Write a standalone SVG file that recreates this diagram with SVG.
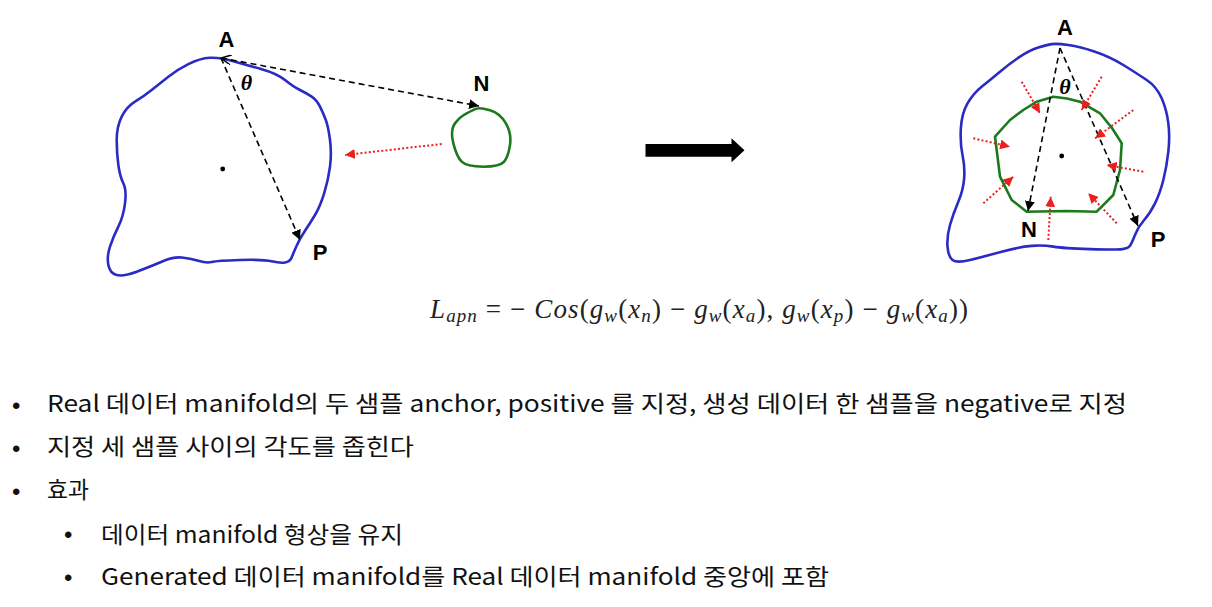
<svg xmlns="http://www.w3.org/2000/svg" width="1212" height="607" viewBox="0 0 1212 607">
<style>
.blue{fill:none;stroke:#2a2ac4;stroke-width:2.6;stroke-linejoin:round;stroke-linecap:round}
.green{fill:none;stroke:#1c7a1c;stroke-width:2.6;stroke-linejoin:round;stroke-linecap:round}
.dash{fill:none;stroke:#000;stroke-width:1.6;stroke-dasharray:6 4}
.red{fill:none;stroke:#e8201e;stroke-width:2;stroke-dasharray:2 2.2}
.lbl{font-family:"Liberation Sans",Arial,sans-serif;font-weight:bold;font-size:22px;fill:#000;text-anchor:middle}
.th{font-family:"Liberation Serif","DejaVu Serif",serif;font-weight:bold;font-style:italic;font-size:22px;fill:#000;text-anchor:middle}
.body{font-family:"Noto Sans CJK KR","Noto Sans",sans-serif;font-size:23px;fill:#111}
.bul{font-family:"Liberation Sans",Arial,sans-serif;font-size:24px;fill:#111}
.math{font-family:"Liberation Serif","DejaVu Serif",serif;font-size:27px;fill:#222}
.i{font-style:italic}
.s{font-style:italic;font-size:19px}
</style>
<defs>
<marker id="ak" markerUnits="userSpaceOnUse" markerWidth="12" markerHeight="10" refX="10" refY="5" orient="auto"><path d="M0,0 L10,5 L0,10 Z" fill="#000"/></marker>
<marker id="aks" markerUnits="userSpaceOnUse" markerWidth="12" markerHeight="10" refX="0" refY="5" orient="auto"><path d="M10,0 L0,5 L10,10" fill="none" stroke="#000" stroke-width="1.5"/></marker>
<marker id="ar" markerUnits="userSpaceOnUse" markerWidth="12" markerHeight="10" refX="10" refY="5" orient="auto"><path d="M0,0 L10,5 L0,10 Z" fill="#e8201e"/></marker>
</defs>

<g id="left-real-manifold">
<path class="blue" d="M210,57.8 Q220,57.3 233.35,61.15 Q246.7,65 261.7,69.15 Q276.7,73.3 285,80 Q293.3,86.7 300,90 Q306.7,93.3 311.7,96.65 Q316.7,100 320,106.65 Q323.3,113.3 325.8,120 Q328.3,126.7 330,140 Q331.7,153.3 330,166.65 Q328.3,180 324.15,193.35 Q320,206.7 315,215 Q310,223.3 305,230.8 Q300,238.3 296.65,245.8 Q293.3,253.3 291.65,257.5 Q290,261.7 285,262.5 Q280,263.3 271.65,261.3 Q263.3,259.3 240,260 Q216.7,260.7 211.7,262 Q206.7,263.3 198.35,260.8 Q190,258.3 181.65,257.5 Q173.3,256.7 161.65,261.7 Q150,266.7 136.65,271.7 Q123.3,276.7 116.65,275 Q110,273.3 108.35,265 Q106.7,256.7 110,246.7 Q113.3,236.7 118.3,226.7 Q123.3,216.7 125,203.35 Q126.7,190 123.35,183.35 Q120,176.7 118.35,165 Q116.7,153.3 116.7,140 Q116.7,126.7 121.7,116.7 Q126.7,106.7 135,101.7 Q143.3,96.7 151.65,90 Q160,83.3 168.35,76.65 Q176.7,70 188.35,64.15 Q200,58.3 210,57.8 Z"/>
<circle cx="222.7" cy="169" r="2.4" fill="#000"/>
</g>
<g id="left-generated-manifold">
<path class="green" d="M476.65,108.65 Q480,107.3 490,110.3 Q500,113.3 505.85,123.3 Q511.7,133.3 510,145 Q508.3,156.7 504.15,161.7 Q500,166.7 483.35,166.7 Q466.7,166.7 461.7,161.7 Q456.7,156.7 453.35,143.35 Q450,130 455,123.35 Q460,116.7 466.65,113.35 Q473.3,110 476.65,108.65 Z"/>
</g>
<g id="left-labels">
<text class="lbl" x="226.5" y="47">A</text>
<text class="lbl" x="481.5" y="91">N</text>
<text class="lbl" x="320" y="260">P</text>
<text class="th" x="246.5" y="90">θ</text>
</g>

<g id="big-arrow">
<polygon points="645.5,144 731.5,144 731.5,138.3 744.5,150.3 731.5,162.3 731.5,156.7 645.5,156.7" fill="#000"/>
</g>

<g id="right-real-manifold">
<path class="blue" d="M1051.7,44.15 Q1056.7,43.3 1068.35,45 Q1080,46.7 1095,51.7 Q1110,56.7 1123.35,65 Q1136.7,73.3 1146.7,80 Q1156.7,86.7 1161.7,98.35 Q1166.7,110 1168.35,123.35 Q1170,136.7 1168.35,151.7 Q1166.7,166.7 1163.35,180 Q1160,193.3 1155,203.3 Q1150,213.3 1144.15,220 Q1138.3,226.7 1135,235 Q1131.7,243.3 1130,245.8 Q1128.3,248.3 1122.5,249.15 Q1116.7,250 1090,249.15 Q1063.3,248.3 1053.3,246.65 Q1043.3,245 1031.65,245.85 Q1020,246.7 1001.65,251.7 Q983.3,256.7 970,260 Q956.7,263.3 952.5,260 Q948.3,256.7 947.5,246.7 Q946.7,236.7 950,225 Q953.3,213.3 958.3,201.65 Q963.3,190 964.15,178.35 Q965,166.7 962.5,155 Q960,143.3 960.85,128.3 Q961.7,113.3 967.5,103.3 Q973.3,93.3 981.65,86.65 Q990,80 1000,71.65 Q1010,63.3 1020,56.65 Q1030,50 1038.35,47.5 Q1046.7,45 1051.7,44.15 Z"/>
<circle cx="1061.7" cy="156" r="2.4" fill="#000"/>
</g>
<g id="right-generated-manifold">
<polygon class="green" points="1053.3,96.7 1067,98.5 1080,101.7 1100,113.3 1112,128 1121.7,143.3 1120,170 1113.3,195 1096.7,211.7 1066.7,211 1026.7,211.7 1011.7,200 1000,176.7 995,136.7 1010,120 1023.3,110 1036.7,101.7"/>
</g>
<g id="right-labels">
<text class="lbl" x="1065" y="35">A</text>
<text class="lbl" x="1029" y="237">N</text>
<text class="lbl" x="1158" y="247">P</text>
<text class="th" x="1065" y="94">θ</text>
</g>

<g id="connectors">
<line class="dash" x1="221" y1="58" x2="479" y2="106" marker-end="url(#ak)" marker-start="url(#aks)"/>
<line class="dash" x1="221" y1="58" x2="300" y2="240" marker-end="url(#ak)"/>
<line class="red" x1="441.7" y1="144" x2="345" y2="155" marker-end="url(#ar)"/>
<line class="dash" x1="1060" y1="48" x2="1028" y2="211" marker-end="url(#ak)"/>
<line class="dash" x1="1060" y1="48" x2="1138" y2="226" marker-end="url(#ak)"/>
<line class="red" x1="1021.7" y1="81.7" x2="1040" y2="113.3" marker-end="url(#ar)"/>
<line class="red" x1="1101.7" y1="76.7" x2="1081.7" y2="110" marker-end="url(#ar)"/>
<line class="red" x1="1133.3" y1="110" x2="1095" y2="138.3" marker-end="url(#ar)"/>
<line class="red" x1="1143.3" y1="171.7" x2="1106.7" y2="165" marker-end="url(#ar)"/>
<line class="red" x1="1116.7" y1="223.3" x2="1088.3" y2="193.3" marker-end="url(#ar)"/>
<line class="red" x1="1048.3" y1="240" x2="1050.7" y2="196.7" marker-end="url(#ar)"/>
<line class="red" x1="983.3" y1="203.3" x2="1013.3" y2="176.7" marker-end="url(#ar)"/>
<line class="red" x1="973.3" y1="138.3" x2="1010" y2="146.7" marker-end="url(#ar)"/>
</g>

<g id="formula">
<text class="math" x="430" y="318" textLength="538" lengthAdjust="spacing"><tspan class="i">L</tspan><tspan class="s" dy="4">apn</tspan><tspan dy="-4"> = − </tspan><tspan class="i">Cos</tspan>(<tspan class="i">g</tspan><tspan class="s" dy="4">w</tspan><tspan dy="-4">(</tspan><tspan class="i">x</tspan><tspan class="s" dy="4">n</tspan><tspan dy="-4">) − </tspan><tspan class="i">g</tspan><tspan class="s" dy="4">w</tspan><tspan dy="-4">(</tspan><tspan class="i">x</tspan><tspan class="s" dy="4">a</tspan><tspan dy="-4">), </tspan><tspan class="i">g</tspan><tspan class="s" dy="4">w</tspan><tspan dy="-4">(</tspan><tspan class="i">x</tspan><tspan class="s" dy="4">p</tspan><tspan dy="-4">) − </tspan><tspan class="i">g</tspan><tspan class="s" dy="4">w</tspan><tspan dy="-4">(</tspan><tspan class="i">x</tspan><tspan class="s" dy="4">a</tspan><tspan dy="-4">))</tspan></text>
</g>

<g id="bullets">
<text class="bul" x="12" y="414">•</text>
<text class="body" x="47" y="412" textLength="1080" lengthAdjust="spacingAndGlyphs">Real 데이터 manifold의 두 샘플 anchor, positive 를 지정, 생성 데이터 한 샘플을 negative로 지정</text>
<text class="bul" x="12" y="457">•</text>
<text class="body" x="47" y="455" textLength="367" lengthAdjust="spacingAndGlyphs">지정 세 샘플 사이의 각도를 좁힌다</text>
<text class="bul" x="12" y="500">•</text>
<text class="body" x="47" y="498" textLength="42" lengthAdjust="spacingAndGlyphs">효과</text>
<text class="bul" x="64" y="543">•</text>
<text class="body" x="101" y="543" textLength="302" lengthAdjust="spacingAndGlyphs">데이터 manifold 형상을 유지</text>
<text class="bul" x="64" y="586">•</text>
<text class="body" x="101" y="585" textLength="728" lengthAdjust="spacingAndGlyphs">Generated 데이터 manifold를 Real 데이터 manifold 중앙에 포함</text>
</g>
</svg>
